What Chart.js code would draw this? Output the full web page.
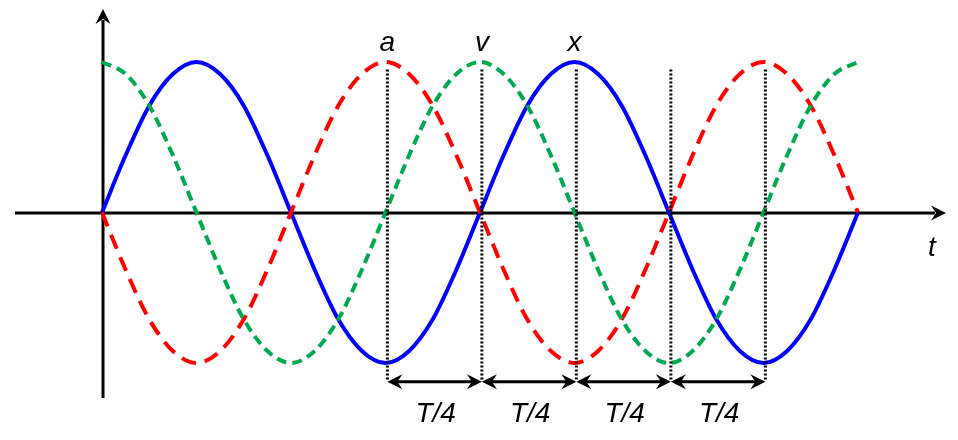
<!DOCTYPE html>
<html>
<head>
<meta charset="utf-8">
<script src="https://cdn.jsdelivr.net/npm/chart.js@4.4.0/dist/chart.umd.min.js"></script>
<style>
  html, body { margin: 0; padding: 0; background: #fff; }
</style>
</head>
<body>
<canvas id="chart" width="958" height="440"></canvas>
<script>
// temps, en quarts de période (T/4 = 1)
const tValues = [0, 0.25, 0.5, 0.75, 1, 1.25, 1.5, 1.75, 2, 2.25, 2.5, 2.75, 3, 3.25, 3.5, 3.75, 4,
  4.25, 4.5, 4.75, 5, 5.25, 5.5, 5.75, 6, 6.25, 6.5, 6.75, 7, 7.25, 7.5, 7.75, 8];
// position x (bleu)
const xValues = [0, 0.38, 0.71, 0.92, 1, 0.92, 0.71, 0.38, 0, -0.38, -0.71, -0.92, -1, -0.92, -0.71, -0.38, 0,
  0.38, 0.71, 0.92, 1, 0.92, 0.71, 0.38, 0, -0.38, -0.71, -0.92, -1, -0.92, -0.71, -0.38, 0];
// vitesse v (vert)
const vValues = [1, 0.92, 0.71, 0.38, 0, -0.38, -0.71, -0.92, -1, -0.92, -0.71, -0.38, 0, 0.38, 0.71, 0.92, 1,
  0.92, 0.71, 0.38, 0, -0.38, -0.71, -0.92, -1, -0.92, -0.71, -0.38, 0, 0.38, 0.71, 0.92, 1];
// accélération a (rouge)
const aValues = [0, -0.38, -0.71, -0.92, -1, -0.92, -0.71, -0.38, 0, 0.38, 0.71, 0.92, 1, 0.92, 0.71, 0.38, 0,
  -0.38, -0.71, -0.92, -1, -0.92, -0.71, -0.38, 0, 0.38, 0.71, 0.92, 1, 0.92, 0.71, 0.38, 0];

// repères verticaux en pointillés (légèrement décalés à droite dans l'original)
const markerTimes = [3.02, 4.02, 5.02, 6.02, 7.02];
const markerTop = 0.95;
const markerBottom = -1.12;
// noms des courbes au-dessus des repères
const curveLabels = ['a', 'v', 'x'];
const curveLabelTimes = [3.02, 4.02, 5.0];
// flèches T/4
const spanStarts = [3.02, 4.02, 5.02, 6.02];
const spanEnds = [4.02, 5.02, 6.02, 7.02];
const spanLabels = ['T/4', 'T/4', 'T/4', 'T/4'];

const toPoints = (ys) => tValues.map((t, i) => ({ x: t, y: ys[i] }));

const markerSets = markerTimes.map((t) => ({
  data: [{ x: t, y: markerTop }, { x: t, y: markerBottom }],
  borderColor: '#000',
  borderWidth: 3,
  borderDash: [2, 2],
  pointRadius: 0,
  clip: false,
}));

// petite flèche pleine, pointe en (x, y), direction (dx, dy)
function arrowHead(ctx, x, y, dx, dy) {
  const len = 15;
  const half = 7.5;
  const notch = 10;
  const px = -dy;
  const py = dx;
  ctx.beginPath();
  ctx.moveTo(x, y);
  ctx.lineTo(x - dx * len + px * half, y - dy * len + py * half);
  ctx.lineTo(x - dx * notch, y - dy * notch);
  ctx.lineTo(x - dx * len - px * half, y - dy * len - py * half);
  ctx.closePath();
  ctx.fill();
}

// axes, flèches et textes dessinés à la main
const decorations = {
  id: 'decorations',
  beforeDatasetsDraw(chart) {
    const { ctx } = chart;
    const xs = chart.scales.x;
    const ys = chart.scales.y;
    const x0 = xs.getPixelForValue(0) + 1;
    const y0 = ys.getPixelForValue(0) + 0.5;
    ctx.save();
    ctx.strokeStyle = '#000';
    ctx.fillStyle = '#000';
    ctx.lineWidth = 3;
    // axe du temps
    ctx.beginPath();
    ctx.moveTo(15, y0);
    ctx.lineTo(935, y0);
    ctx.stroke();
    arrowHead(ctx, 946, y0, 1, 0);
    // axe vertical
    ctx.beginPath();
    ctx.moveTo(x0, 398);
    ctx.lineTo(x0, 20);
    ctx.stroke();
    arrowHead(ctx, x0, 9, 0, -1);
    ctx.restore();
  },
  afterDatasetsDraw(chart) {
    const { ctx } = chart;
    const xs = chart.scales.x;
    const ys = chart.scales.y;
    ctx.save();
    ctx.strokeStyle = '#000';
    ctx.fillStyle = '#000';
    ctx.lineWidth = 3;
    const ay = ys.getPixelForValue(-1.125);
    spanStarts.forEach((s, i) => {
      const xa = xs.getPixelForValue(s);
      const xb = xs.getPixelForValue(spanEnds[i]);
      ctx.beginPath();
      ctx.moveTo(xa + 8, ay);
      ctx.lineTo(xb - 8, ay);
      ctx.stroke();
      arrowHead(ctx, xa, ay, -1, 0);
      arrowHead(ctx, xb, ay, 1, 0);
      ctx.font = 'italic 28px "Liberation Sans", Arial, sans-serif';
      ctx.textAlign = 'center';
      ctx.textBaseline = 'alphabetic';
      ctx.fillText(spanLabels[i], (xa + xb) / 2 + 1, ay + 40);
    });
    ctx.font = 'italic 28px "Liberation Sans", Arial, sans-serif';
    ctx.textAlign = 'center';
    curveLabels.forEach((lab, i) => {
      ctx.fillText(lab, xs.getPixelForValue(curveLabelTimes[i]), 51);
    });
    ctx.fillText('t', 932, 256);
    ctx.restore();
  },
};

new Chart(document.getElementById('chart'), {
  type: 'line',
  data: {
    datasets: [
      ...markerSets,
      {
        label: 'v',
        data: toPoints(vValues),
        borderColor: '#00a84f',
        borderWidth: 4,
        borderDash: [10, 6],
        pointRadius: 0,
        cubicInterpolationMode: 'monotone',
        clip: false,
      },
      {
        label: 'a',
        data: toPoints(aValues),
        borderColor: '#ff0000',
        borderWidth: 4,
        borderDash: [15, 9],
        pointRadius: 0,
        cubicInterpolationMode: 'monotone',
        clip: false,
      },
      {
        label: 'x',
        data: toPoints(xValues),
        borderColor: '#0000ff',
        borderWidth: 4,
        pointRadius: 0,
        cubicInterpolationMode: 'monotone',
        clip: false,
      },
    ],
  },
  options: {
    responsive: false,
    animation: false,
    devicePixelRatio: 1,
    layout: { padding: { left: 102, right: 100, top: 62, bottom: 77 } },
    plugins: { legend: { display: false }, tooltip: { enabled: false } },
    scales: {
      x: { type: 'linear', min: 0, max: 8, display: false },
      y: { type: 'linear', min: -1, max: 1, display: false },
    },
  },
  plugins: [decorations],
});
</script>
</body>
</html>
